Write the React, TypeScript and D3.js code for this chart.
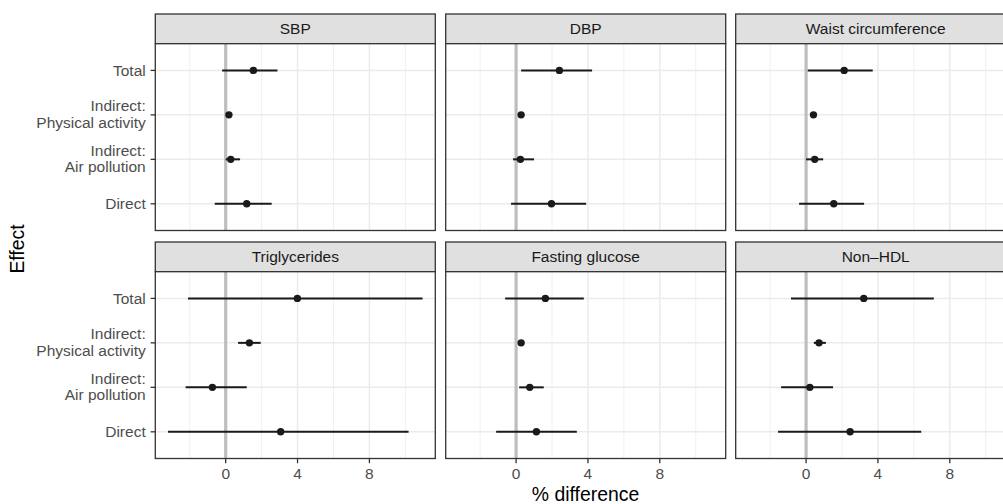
import React from "react";
import * as d3 from "d3";

const effects = ["Total", "Indirect:\nPhysical activity", "Indirect:\nAir pollution", "Direct"];
const outcomes = ["SBP", "DBP", "Waist circumference", "Triglycerides", "Fasting glucose", "Non\u2013HDL"];

// per outcome: estimates in the order of `effects`
const estimate = [
  [1.54, 0.18, 0.28, 1.17],
  [2.41, 0.28, 0.24, 1.97],
  [2.12, 0.41, 0.48, 1.54],
  [3.99, 1.32, -0.74, 3.06],
  [1.63, 0.28, 0.76, 1.13],
  [3.21, 0.72, 0.21, 2.45],
];
const lower = [
  [-0.2, 0.12, 0.0, -0.61],
  [0.28, 0.22, -0.17, -0.28],
  [0.09, 0.35, 0.0, -0.39],
  [-2.1, 0.69, -2.23, -3.21],
  [-0.61, 0.22, 0.17, -1.11],
  [-0.84, 0.43, -1.39, -1.56],
];
const upper = [
  [2.88, 0.25, 0.8, 2.56],
  [4.23, 0.34, 1.0, 3.9],
  [3.71, 0.47, 0.95, 3.23],
  [10.96, 1.95, 1.17, 10.18],
  [3.77, 0.34, 1.54, 3.38],
  [7.11, 1.1, 1.5, 6.41],
];
const xTicks = [0, 4, 8];
const xMinor = [-2, 2, 6, 10];

const FONT = "'Liberation Sans', Arial, Helvetica, sans-serif";

export default function App() {
  const W = 1003, H = 504;
  const colX = [155.3, 445.7, 735.7];
  const panelW = 280;
  const rowTop = [14, 242];
  const stripH = 29.7;
  const bodyH = 186.8;

  const allVals = [...lower.flat(), ...upper.flat()];
  const [mn, mx] = d3.extent(allVals) as [number, number];
  const pad = (mx - mn) * 0.05;
  const x = d3.scaleLinear().domain([mn - pad, mx + pad]).range([0, panelW]);

  const y = d3.scalePoint<string>().domain(effects).range([0, bodyH]).padding(0.6);

  const tickFs = 15.5;
  const titleFs = 19.4;

  return (
    <svg width={W} height={H} style={{ position: "absolute", left: 0, top: 0, background: "#fff" }} fontFamily={FONT}>
      {outcomes.map((name, i) => {
        const r = Math.floor(i / 3), c = i % 3;
        const px = colX[c];
        const sy = rowTop[r];
        const by = sy + stripH;
        return (
          <g key={name}>
            <rect x={px} y={sy} width={panelW} height={stripH} fill="#e0e0e0" stroke="#333" strokeWidth={1.3} />
            <text x={px + panelW / 2} y={sy + stripH / 2 + 5.5} textAnchor="middle" fontSize={tickFs} fill="#1a1a1a">{name}</text>
            <g transform={`translate(${px},${by})`}>
              <rect x={0} y={0} width={panelW} height={bodyH} fill="#fff" />
              {xMinor.map((t) => (
                <line key={"mi" + t} x1={x(t)} x2={x(t)} y1={0} y2={bodyH} stroke="#f0f0f0" strokeWidth={1} />
              ))}
              {xTicks.map((t) => (
                <line key={"ma" + t} x1={x(t)} x2={x(t)} y1={0} y2={bodyH} stroke="#ebebeb" strokeWidth={1.5} />
              ))}
              {effects.map((e) => (
                <line key={"gy" + e} x1={0} x2={panelW} y1={y(e)} y2={y(e)} stroke="#ebebeb" strokeWidth={1.5} />
              ))}
              <line x1={x(0)} x2={x(0)} y1={0} y2={bodyH} stroke="#bebebe" strokeWidth={3.2} />
              {effects.map((e, j) => (
                <g key={"d" + e}>
                  <line x1={x(lower[i][j])} x2={x(upper[i][j])} y1={y(e)} y2={y(e)} stroke="#1a1a1a" strokeWidth={2} />
                  <circle cx={x(estimate[i][j])} cy={y(e)} r={3.7} fill="#1a1a1a" />
                </g>
              ))}
              <rect x={0} y={0} width={panelW} height={bodyH} fill="none" stroke="#333" strokeWidth={1.3} />
              {c === 0 &&
                effects.map((e) => {
                  const lines = e.split("\n");
                  const yy = y(e) as number;
                  return (
                    <g key={"yl" + e}>
                      <line x1={-4.7} x2={0} y1={yy} y2={yy} stroke="#333" strokeWidth={1.3} />
                      {lines.length === 1 ? (
                        <text x={-9.6} y={yy + 5.6} textAnchor="end" fontSize={tickFs} fill="#4d4d4d">{lines[0]}</text>
                      ) : (
                        <text x={-9.6} y={yy - 3.6} textAnchor="end" fontSize={tickFs} fill="#4d4d4d">
                          <tspan x={-9.6} dy={0}>{lines[0]}</tspan>
                          <tspan x={-9.6} dy={16.4}>{lines[1]}</tspan>
                        </text>
                      )}
                    </g>
                  );
                })}
              {r === 1 &&
                xTicks.map((t) => (
                  <g key={"xt" + t}>
                    <line x1={x(t)} x2={x(t)} y1={bodyH} y2={bodyH + 4.7} stroke="#333" strokeWidth={1.3} />
                    <text x={x(t)} y={bodyH + 21} textAnchor="middle" fontSize={tickFs} fill="#4d4d4d">{t}</text>
                  </g>
                ))}
            </g>
          </g>
        );
      })}
      <text x={colX[0] + (colX[2] + panelW - colX[0]) / 2} y={501} textAnchor="middle" fontSize={titleFs} fill="#000">% difference</text>
      <text transform={`translate(24,249) rotate(-90)`} textAnchor="middle" fontSize={titleFs} fill="#000">Effect</text>
    </svg>
  );
}
